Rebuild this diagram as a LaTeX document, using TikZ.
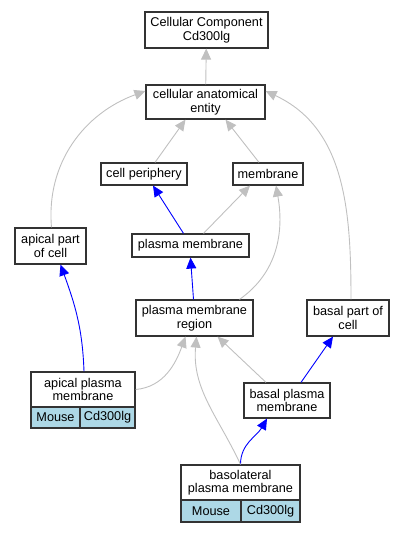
\documentclass[tikz,border=0pt]{standalone}
\usepackage{fontspec}
\setmainfont{Liberation Sans}
\usetikzlibrary{arrows.meta}
\definecolor{genecell}{RGB}{173,216,230}
\definecolor{isagray}{RGB}{192,192,192}

\begin{document}
\begin{tikzpicture}[
    x=1pt, y=-1pt,
    term/.style={rectangle, draw=black!80, line width=1.2pt, fill=white,
        align=center, inner sep=1pt, font=\fontsize{12.7}{13.5}\selectfont},
    cell/.style={term, fill=genecell},
    isa/.style={draw=isagray, line width=0.9pt, -{Triangle[length=11pt,width=10pt]}},
    partof/.style={draw=blue, line width=0.9pt, -{Triangle[length=11pt,width=10pt]}}
]
    \useasboundingbox (0,0) rectangle (405,533);
    \node[term, minimum width=123pt, minimum height=36pt] (cc) at (206.5,30) {Cellular Component\\Cd300lg};
    \node[term, minimum width=119pt, minimum height=34pt] (cae) at (205.5,102) {cellular anatomical\\entity};
    \node[term, minimum width=86pt, minimum height=22pt] (cellper) at (144,174) {cell periphery};
    \node[term, minimum width=70pt, minimum height=22pt] (membrane) at (268,174) {membrane};
    \node[term, minimum width=71pt, minimum height=36pt] (apicalpart) at (50.5,246) {apical part\\of cell};
    \node[term, minimum width=117pt, minimum height=23pt] (plasmamem) at (190.5,245.5) {plasma membrane};
    \node[term, minimum width=117pt, minimum height=36pt] (pmregion) at (194.5,318) {plasma membrane\\region};
    \node[term, minimum width=82pt, minimum height=36pt] (basalpart) at (348,318) {basal part of\\cell};
    \node[term, minimum width=104pt, minimum height=35pt] (apicalpm) at (83,389.5) {apical plasma\\membrane};
    \node[cell, minimum width=49pt, minimum height=21pt] (apicalmouse) at (55.5,417.5) {Mouse};
    \node[cell, minimum width=55pt, minimum height=21pt] (apicalgene) at (107.5,417.5) {Cd300lg};
    \node[term, minimum width=86pt, minimum height=35pt] (basalpm) at (287,400.5) {basal plasma\\membrane};
    \node[term, minimum width=119pt, minimum height=35pt] (basolat) at (240.5,482.5) {basolateral\\plasma membrane};
    \node[cell, minimum width=60pt, minimum height=22pt] (basolatmouse) at (211,511) {Mouse};
    \node[cell, minimum width=59pt, minimum height=22pt] (basolatgene) at (270.5,511) {Cd300lg};
    \draw[isa] (cae) -- (cc);
    \draw[isa] ([xshift=11pt]cellper.north) -- ([xshift=-20pt]cae.south);
    \draw[isa] ([xshift=-9pt]membrane.north) -- ([xshift=20pt]cae.south);
    \draw[isa] ([xshift=1pt]apicalpart.north) to[out=95, in=200] ([yshift=11pt]cae.west);
    \draw[isa] ([xshift=3pt]basalpart.north) to[out=90, in=-25] ([yshift=11pt]cae.east);
    \draw[partof] ([xshift=-7pt]plasmamem.north) -- ([xshift=9pt]cellper.south);
    \draw[isa] ([xshift=13pt]plasmamem.north) -- ([xshift=-18pt]membrane.south);
    \draw[partof] ([xshift=-1pt]pmregion.north) -- (plasmamem.south);
    \draw[isa] ([xshift=45pt]pmregion.north) to[out=35, in=-80] ([xshift=8pt]membrane.south);
    \draw[partof] ([xshift=1pt]apicalpm.north) to[out=92, in=-70] ([xshift=10pt]apicalpart.south);
    \draw[isa] (apicalpm.east) to[out=5, in=-110] ([xshift=-9pt]pmregion.south);
    \draw[isa] ([xshift=-21pt]basalpm.north) -- ([xshift=23pt]pmregion.south);
    \draw[partof] ([xshift=14pt]basalpm.north) -- ([xshift=-15pt]basalpart.south);
    \draw[partof] (basolat.north) to[out=90, in=-120] ([xshift=-20pt]basalpm.south);
    \draw[isa] (basolat.north) to[out=115, in=-95] ([xshift=2pt]pmregion.south);
\end{tikzpicture}
\end{document}
